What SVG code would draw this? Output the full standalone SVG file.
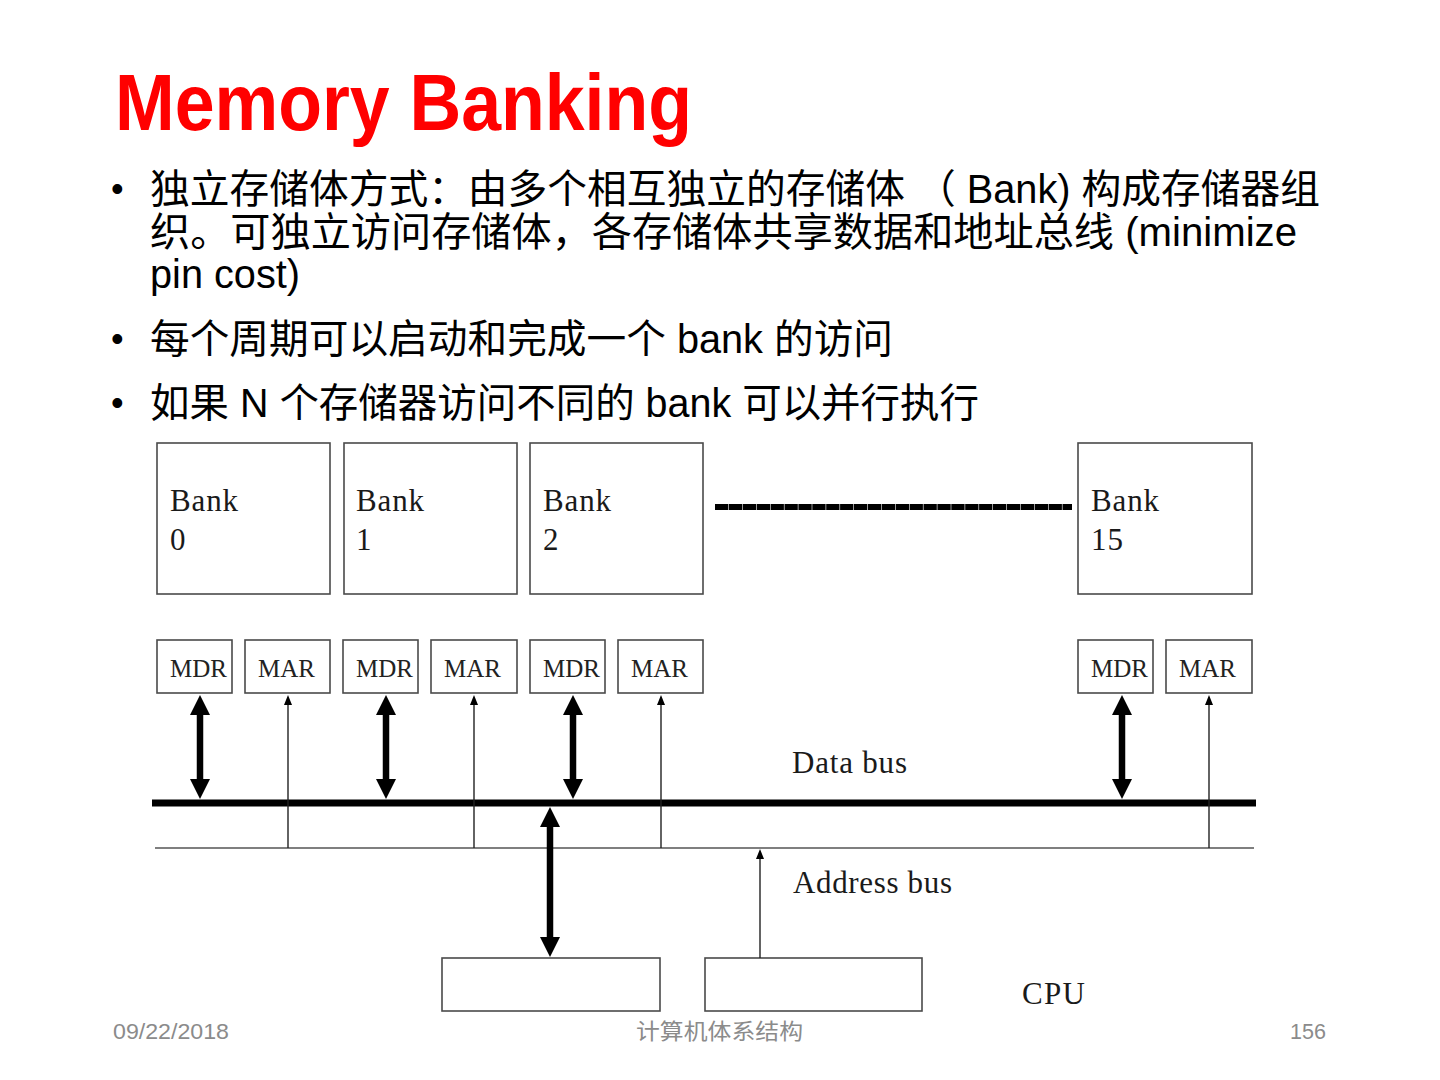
<svg xmlns="http://www.w3.org/2000/svg" width="1440" height="1080" viewBox="0 0 1440 1080">
<style>
.title{font-family:"Liberation Sans","Noto Sans",sans-serif;font-weight:bold;font-size:80px;fill:#ff0000}
.body{font-family:"Liberation Sans","Noto Sans CJK SC",sans-serif;font-size:40px;fill:#000}
.bullet{font-family:"Liberation Sans",sans-serif;font-size:36px;fill:#000}
.box{fill:#fff;stroke:#4a4a4a;stroke-width:1.6}
.lbl{font-family:"Liberation Serif","Noto Serif",serif;font-size:31px;fill:#1a1a1a}
.reg{font-family:"Liberation Serif",serif;font-size:25px;fill:#222}
.foot{font-family:"Liberation Sans","Noto Sans CJK SC",sans-serif;font-size:22px;fill:#8b8b8b}
.thick{stroke:#000;stroke-width:6.5;fill:none}
.thin{stroke:#222;stroke-width:1.4;fill:none}
</style>
<defs>
<marker id="big" viewBox="0 0 20 20" refX="0" refY="10" markerWidth="20" markerHeight="20" markerUnits="userSpaceOnUse" orient="auto-start-reverse">
<path d="M0,0 L20,10 L0,20 Z" fill="#000"/>
</marker>
<marker id="small" viewBox="0 0 10 8" refX="0" refY="4" markerWidth="10" markerHeight="8" markerUnits="userSpaceOnUse" orient="auto">
<path d="M0,0 L10,4 L0,8 Z" fill="#000"/>
</marker>
</defs>
<rect width="1440" height="1080" fill="#fff"/>

<g id="title"><text class="title" x="115" y="130" textLength="577" lengthAdjust="spacingAndGlyphs">Memory Banking</text></g>

<g id="bullets">
<text class="bullet" x="111" y="201">•</text>
<text class="body" x="150" y="203" textLength="1170" lengthAdjust="spacingAndGlyphs">独立存储体方式：由多个相互独立的存储体 （ Bank) 构成存储器组</text>
<text class="body" x="150" y="246" textLength="1147" lengthAdjust="spacingAndGlyphs">织。可独立访问存储体，各存储体共享数据和地址总线 (minimize</text>
<text class="body" x="150" y="288" textLength="150" lengthAdjust="spacingAndGlyphs">pin cost)</text>
<text class="bullet" x="111" y="351">•</text>
<text class="body" x="150" y="353" textLength="743" lengthAdjust="spacingAndGlyphs">每个周期可以启动和完成一个 bank 的访问</text>
<text class="bullet" x="111" y="415">•</text>
<text class="body" x="150" y="417" textLength="829" lengthAdjust="spacingAndGlyphs">如果 N 个存储器访问不同的 bank 可以并行执行</text>
</g>

<g id="bank0"><rect class="box" x="157" y="443" width="173" height="151"/><text class="lbl" x="170" y="511" textLength="68">Bank</text><text class="lbl" x="170" y="550">0</text></g>
<g id="bank1"><rect class="box" x="344" y="443" width="173" height="151"/><text class="lbl" x="356" y="511" textLength="68">Bank</text><text class="lbl" x="356" y="550">1</text></g>
<g id="bank2"><rect class="box" x="530" y="443" width="173" height="151"/><text class="lbl" x="543" y="511" textLength="68">Bank</text><text class="lbl" x="543" y="550">2</text></g>
<g id="bank15"><rect class="box" x="1078" y="443" width="174" height="151"/><text class="lbl" x="1091" y="511" textLength="68">Bank</text><text class="lbl" x="1091" y="550" textLength="32">15</text></g>
<g id="ellipsis"><line x1="715" y1="507" x2="1072" y2="507" stroke="#000" stroke-width="6" stroke-dasharray="13.3 0.6"/></g>

<g id="mdr0"><rect class="box" x="157" y="640" width="75" height="53"/><text class="reg" x="170" y="677">MDR</text></g>
<g id="mar0"><rect class="box" x="245" y="640" width="85" height="53"/><text class="reg" x="258" y="677">MAR</text></g>
<g id="mdr1"><rect class="box" x="343" y="640" width="75" height="53"/><text class="reg" x="356" y="677">MDR</text></g>
<g id="mar1"><rect class="box" x="431" y="640" width="86" height="53"/><text class="reg" x="444" y="677">MAR</text></g>
<g id="mdr2"><rect class="box" x="530" y="640" width="75" height="53"/><text class="reg" x="543" y="677">MDR</text></g>
<g id="mar2"><rect class="box" x="618" y="640" width="85" height="53"/><text class="reg" x="631" y="677">MAR</text></g>
<g id="mdr15"><rect class="box" x="1078" y="640" width="75" height="53"/><text class="reg" x="1091" y="677">MDR</text></g>
<g id="mar15"><rect class="box" x="1166" y="640" width="86" height="53"/><text class="reg" x="1179" y="677">MAR</text></g>

<g id="cpu1"><rect class="box" x="442" y="958" width="218" height="53"/></g>
<g id="cpu2"><rect class="box" x="705" y="958" width="217" height="53"/></g>
<g id="cpu-label"><text class="lbl" x="1022" y="1004" textLength="63">CPU</text></g>

<g id="buses">
<line x1="152" y1="803" x2="1256" y2="803" stroke="#000" stroke-width="7"/>
<line x1="155" y1="848" x2="1254" y2="848" stroke="#555" stroke-width="1.5"/>
<text class="lbl" x="792" y="773" textLength="115">Data bus</text>
<text class="lbl" x="793" y="893" textLength="159">Address bus</text>
</g>

<g id="connectors">
<line class="thick" x1="200" y1="715" x2="200" y2="779" marker-start="url(#big)" marker-end="url(#big)"/>
<line class="thick" x1="386" y1="715" x2="386" y2="779" marker-start="url(#big)" marker-end="url(#big)"/>
<line class="thick" x1="573" y1="715" x2="573" y2="779" marker-start="url(#big)" marker-end="url(#big)"/>
<line class="thick" x1="1122" y1="715" x2="1122" y2="779" marker-start="url(#big)" marker-end="url(#big)"/>
<line class="thick" x1="550" y1="827" x2="550" y2="937" marker-start="url(#big)" marker-end="url(#big)"/>
<line class="thin" x1="288" y1="848" x2="288" y2="705" marker-end="url(#small)"/>
<line class="thin" x1="474" y1="848" x2="474" y2="705" marker-end="url(#small)"/>
<line class="thin" x1="661" y1="848" x2="661" y2="705" marker-end="url(#small)"/>
<line class="thin" x1="1209" y1="848" x2="1209" y2="705" marker-end="url(#small)"/>
<line class="thin" x1="760" y1="958" x2="760" y2="859" marker-end="url(#small)"/>
</g>

<g id="footer">
<text class="foot" x="113" y="1039" textLength="116" lengthAdjust="spacingAndGlyphs">09/22/2018</text>
<text class="foot" x="636" y="1039" textLength="167" lengthAdjust="spacingAndGlyphs">计算机体系结构</text>
<text class="foot" x="1290" y="1039" textLength="36" lengthAdjust="spacingAndGlyphs">156</text>
</g>
</svg>
